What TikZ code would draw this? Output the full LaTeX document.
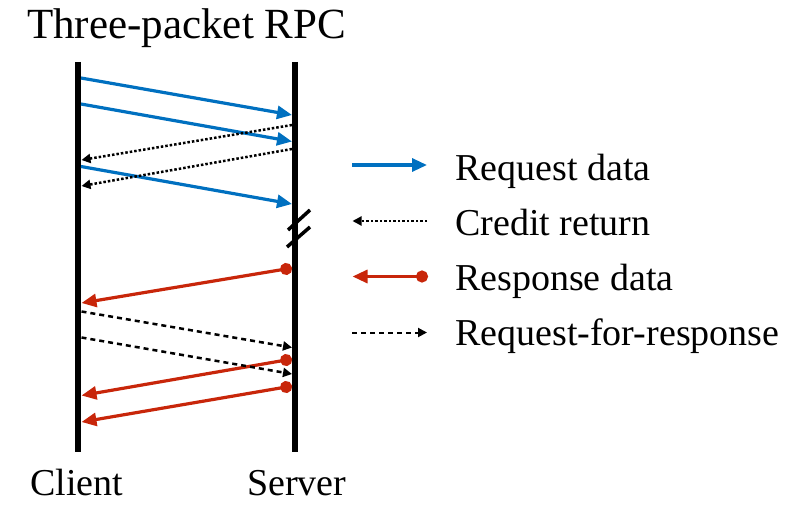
\documentclass[tikz,border=0pt]{standalone}
\usepackage{fontspec}
\setmainfont{Liberation Serif}
\usetikzlibrary{arrows.meta}

\definecolor{reqblue}{RGB}{0,112,192}
\definecolor{resred}{RGB}{200,38,10}

\tikzset{
  lifeline/.style={line width=6pt},
  reqdata/.style={draw=reqblue, line width=3.2pt, -{Triangle[length=15pt,width=13pt]}},
  credit/.style={line width=2.5pt, dotted, -{Triangle[length=9pt,width=9pt]}},
  response/.style={draw=resred, line width=3.2pt, {Triangle[length=15pt,width=13pt]}-{Circle[length=12pt]}},
  rfr/.style={line width=2.5pt, dash pattern=on 5pt off 4pt, -{Triangle[length=9pt,width=9pt]}},
  slash/.style={line width=3.5pt},
  label/.style={inner sep=0pt, anchor=base west, font=\fontsize{38}{44}\selectfont}
}

\begin{document}
\begin{tikzpicture}[x=1pt,y=-1pt]
\useasboundingbox (0,0) rectangle (806,519);

\node[label, font=\fontsize{43}{48}\selectfont] (title) at (27,39) {Three-packet RPC};

% the two lifelines
\coordinate (ctop) at (78,62);
\coordinate (cbot) at (78,452);
\coordinate (stop) at (295,62);
\coordinate (sbot) at (295,452);
\draw[lifeline] (ctop) -- (cbot);
\draw[lifeline] (stop) -- (sbot);

\node[label] (client) at (30,495) {Client};
\node[label] (server) at (247,495) {Server};

% break on the server side
\draw[slash] (288,230) -- (310,210);
\draw[slash] (287,247) -- (310,227);

% request data
\foreach \a/\b [count=\i] in {78/115, 104/141.5, 166.5/204} {
  \coordinate (req\i-c) at (81,\a);
  \coordinate (req\i-s) at (292,\b);
  \draw[reqdata] (req\i-c) -- (req\i-s);
}

% credit return
\foreach \a/\b [count=\i] in {125/160, 149/186} {
  \coordinate (cr\i-s) at (292,\a);
  \coordinate (cr\i-c) at (81.5,\b);
  \draw[credit] (cr\i-s) -- (cr\i-c);
}

% response data
\foreach \a/\b [count=\i] in {268/303, 359/395.5, 386/422} {
  \coordinate (rsp\i-s) at (292,\a);
  \coordinate (rsp\i-c) at (81.5,\b);
  \draw[response] (rsp\i-c) -- (rsp\i-s);
}

% request-for-response
\foreach \a/\b [count=\i] in {311.5/347.5, 337.5/374} {
  \coordinate (rfr\i-c) at (81.5,\a);
  \coordinate (rfr\i-s) at (292,\b);
  \draw[rfr] (rfr\i-c) -- (rfr\i-s);
}

% legend
\node[label] (lg1) at (455,180) {Request data};
\node[label] (lg2) at (455,235) {Credit return};
\node[label] (lg3) at (455,290) {Response data};
\node[label] (lg4) at (455,345) {Request-for-response};

\coordinate (k1a) at (352,165);   \coordinate (k1b) at (427,165);
\coordinate (k2a) at (352.5,221); \coordinate (k2b) at (427,221);
\coordinate (k3a) at (352.5,276.5); \coordinate (k3b) at (428,276.5);
\coordinate (k4a) at (352,332.5); \coordinate (k4b) at (427,332.5);

\draw[reqdata] (k1a) -- (k1b);
\draw[credit, line width=2pt] (k2b) -- (k2a);
\draw[response] (k3a) -- (k3b);
\draw[rfr, line width=2pt] (k4a) -- (k4b);
\end{tikzpicture}
\end{document}
